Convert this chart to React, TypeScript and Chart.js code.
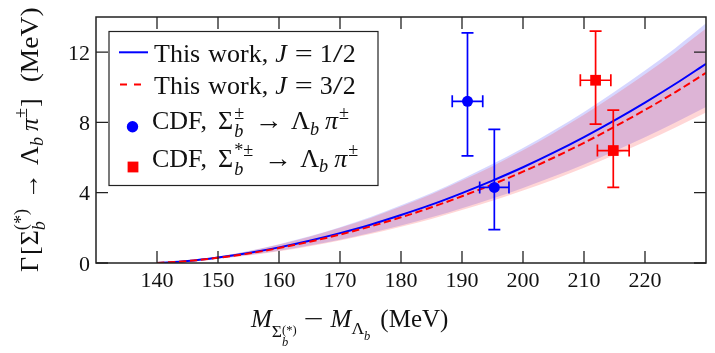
import React, { useEffect, useRef } from 'react';
import { Chart, registerables } from 'chart.js';

Chart.register(...registerables);

// ---- data ----
const massGrid = [140, 145, 150, 155, 160, 165, 170, 175, 180, 185, 190, 195, 200, 205, 210, 215, 220, 225, 230];
const blueCenter = [0, 0.11, 0.31, 0.57, 0.89, 1.27, 1.70, 2.18, 2.73, 3.32, 3.98, 4.69, 5.45, 6.28, 7.17, 8.12, 9.13, 10.20, 11.34];
const blueUpper = [0, 0.13, 0.37, 0.68, 1.07, 1.52, 2.04, 2.62, 3.28, 3.98, 4.78, 5.63, 6.54, 7.54, 8.60, 9.74, 10.96, 12.24, 13.64];
const blueLower = [0, 0.09, 0.24, 0.45, 0.70, 0.99, 1.33, 1.71, 2.14, 2.60, 3.12, 3.67, 4.27, 4.92, 5.61, 6.36, 7.15, 7.99, 8.88];
const redCenter = [0, 0.11, 0.30, 0.54, 0.85, 1.21, 1.62, 2.08, 2.60, 3.17, 3.80, 4.47, 5.20, 5.99, 6.84, 7.75, 8.71, 9.73, 10.82];
const redUpper = [0, 0.13, 0.37, 0.67, 1.05, 1.49, 2.00, 2.56, 3.21, 3.91, 4.69, 5.51, 6.41, 7.39, 8.43, 9.56, 10.74, 12.00, 13.34];
const redLower = [0, 0.09, 0.24, 0.43, 0.67, 0.96, 1.28, 1.65, 2.06, 2.51, 3.01, 3.54, 4.12, 4.74, 5.42, 6.14, 6.90, 7.71, 8.57];

const cdfSigmaX = [190.9, 195.3];
const cdfSigmaY = [9.2, 4.3];
const cdfSigmaXErr = [2.5, 2.4];
const cdfSigmaYLo = [6.1, 1.9];
const cdfSigmaYHi = [13.1, 7.6];

const cdfSigmaStarX = [211.9, 214.8];
const cdfSigmaStarY = [10.4, 6.4];
const cdfSigmaStarXErr = [2.5, 2.6];
const cdfSigmaStarYLo = [7.9, 4.3];
const cdfSigmaStarYHi = [13.2, 8.7];

const xTickValues = [140, 150, 160, 170, 180, 190, 200, 210, 220];
const yTickValues = [0, 4, 8, 12];
const xTickLabels = ['140', '150', '160', '170', '180', '190', '200', '210', '220'];
const yTickLabels = ['0', '4', '8', '12'];
const xRange = [130, 230];
const yRange = [0, 14];

// ---- styles ----
const SERIF = 'Liberation Serif';
const BLUE = '#0000ff';
const RED = '#ff0000';
const INK = '#222222';
const TEXT = '#111111';

Chart.defaults.font.family = SERIF;

type Seg = { t?: string; it?: boolean; s?: number; dy?: number; g?: number; w?: number; stack?: Seg[] };

function fontOf(seg: Seg, base: number) {
  return `${seg.it ? 'italic ' : ''}${(seg.s ?? 1) * base}px "${SERIF}", serif`;
}
function measureSeg(ctx: CanvasRenderingContext2D, seg: Seg, base: number): number {
  if (seg.stack) return Math.max(...seg.stack.map((s) => measureSeg(ctx, s, base)));
  if (seg.w) return seg.w;
  ctx.font = fontOf(seg, base);
  return ctx.measureText(seg.t || '').width;
}
function drawSeg(ctx: CanvasRenderingContext2D, seg: Seg, x: number, y: number, base: number) {
  if (seg.stack) {
    seg.stack.forEach((s) => drawSeg(ctx, s, x, y, base));
    return;
  }
  ctx.font = fontOf(seg, base);
  const m = ctx.measureText(seg.t || '').width;
  const sx = seg.w ? seg.w / m : 1;
  ctx.save();
  ctx.translate(x, y + (seg.dy ?? 0) * base);
  ctx.scale(sx, 1);
  ctx.fillText(seg.t || '', 0, 0);
  ctx.restore();
}
// g = extra gap in px before the segment
function drawRich(ctx: CanvasRenderingContext2D, segs: Seg[], x0: number, y: number, base: number) {
  ctx.textAlign = 'left';
  ctx.textBaseline = 'alphabetic';
  let cx = x0;
  segs.forEach((s) => {
    cx += s.g ?? 0;
    drawSeg(ctx, s, cx, y, base);
    cx += measureSeg(ctx, s, base);
  });
}

const yTitle: Seg[] = [
  { t: 'Γ' },
  { t: '[', g: 2 },
  { t: 'Σ', g: 1 },
  { stack: [{ t: '(*)', s: 0.7, dy: -0.42 }, { t: 'b', s: 0.7, it: true, dy: 0.3 }] },
  { t: '→', g: 10, w: 26 },
  { t: 'Λ', g: 8 },
  { t: 'b', s: 0.7, it: true, dy: 0.22 },
  { t: 'π', it: true, g: 6 },
  { t: '±', s: 0.7, dy: -0.42 },
  { t: ']', g: 1 },
  { t: '(MeV)', g: 16, w: 75 },
];

const xTitle: Seg[] = [
  { t: 'M', it: true },
  { t: 'Σ', s: 0.7, dy: 0.4 },
  { stack: [{ t: '(*)', s: 0.5, dy: 0.28 }, { t: 'b', s: 0.5, it: true, dy: 0.76 }] },
  { t: '−', g: 7, w: 20 },
  { t: 'M', it: true, g: 7 },
  { t: 'Λ', s: 0.7, dy: 0.25 },
  { t: 'b', s: 0.5, it: true, dy: 0.5 },
  { t: '(MeV)', g: 10 },
];

const legendRows: Seg[][] = [
  [{ t: 'This', g: 2 }, { t: 'work,', g: 8 }, { t: 'J', it: true, g: 7 }, { t: '=', g: 8, w: 18 }, { t: '1', g: 7 }, { t: '/', w: 10 }, { t: '2' }],
  [{ t: 'This', g: 2 }, { t: 'work,', g: 8 }, { t: 'J', it: true, g: 7 }, { t: '=', g: 8, w: 18 }, { t: '3', g: 7 }, { t: '/', w: 10 }, { t: '2' }],
  [
    { t: 'CDF,' },
    { t: 'Σ', g: 11 },
    { g: 1, stack: [{ t: '±', s: 0.7, dy: -0.4 }, { t: 'b', s: 0.7, it: true, dy: 0.3 }] },
    { t: '→', g: 11, w: 28 },
    { t: 'Λ', g: 8 },
    { t: 'b', s: 0.7, it: true, dy: 0.22 },
    { t: 'π', it: true, g: 6 },
    { t: '±', s: 0.7, dy: -0.4, g: 1 },
  ],
  [
    { t: 'CDF,' },
    { t: 'Σ', g: 11 },
    { g: 1, stack: [{ t: '*±', s: 0.7, dy: -0.4 }, { t: 'b', s: 0.7, it: true, dy: 0.3 }] },
    { t: '→', g: 11, w: 28 },
    { t: 'Λ', g: 8 },
    { t: 'b', s: 0.7, it: true, dy: 0.22 },
    { t: 'π', it: true, g: 6 },
    { t: '±', s: 0.7, dy: -0.4, g: 1 },
  ],
];

const errorBarPlugin = {
  id: 'errorBars',
  afterDatasetsDraw(chart: any) {
    const { ctx, scales } = chart;
    const sx = scales.x;
    const sy = scales.y;
    const groups = [
      { xs: cdfSigmaX, ys: cdfSigmaY, xe: cdfSigmaXErr, lo: cdfSigmaYLo, hi: cdfSigmaYHi, c: BLUE },
      { xs: cdfSigmaStarX, ys: cdfSigmaStarY, xe: cdfSigmaStarXErr, lo: cdfSigmaStarYLo, hi: cdfSigmaStarYHi, c: RED },
    ];
    ctx.save();
    ctx.lineWidth = 1.7;
    const cap = 6;
    groups.forEach((g) => {
      ctx.strokeStyle = g.c;
      g.xs.forEach((xv, i) => {
        const px = sx.getPixelForValue(xv);
        const py = sy.getPixelForValue(g.ys[i]);
        const pyLo = sy.getPixelForValue(g.lo[i]);
        const pyHi = sy.getPixelForValue(g.hi[i]);
        const pxL = sx.getPixelForValue(xv - g.xe[i]);
        const pxR = sx.getPixelForValue(xv + g.xe[i]);
        ctx.beginPath();
        ctx.moveTo(px, pyLo);
        ctx.lineTo(px, pyHi);
        ctx.moveTo(px - cap, pyLo);
        ctx.lineTo(px + cap, pyLo);
        ctx.moveTo(px - cap, pyHi);
        ctx.lineTo(px + cap, pyHi);
        ctx.moveTo(pxL, py);
        ctx.lineTo(pxR, py);
        ctx.moveTo(pxL, py - cap);
        ctx.lineTo(pxL, py + cap);
        ctx.moveTo(pxR, py - cap);
        ctx.lineTo(pxR, py + cap);
        ctx.stroke();
      });
    });
    ctx.restore();
  },
};

const framePlugin = {
  id: 'frameAndText',
  afterDraw(chart: any) {
    const { ctx, chartArea: a, scales } = chart;
    ctx.save();
    // ticks (inward, all four sides)
    ctx.strokeStyle = INK;
    ctx.lineWidth = 1.3;
    const tl = 12;
    ctx.beginPath();
    xTickValues.forEach((v) => {
      const px = scales.x.getPixelForValue(v);
      ctx.moveTo(px, a.bottom);
      ctx.lineTo(px, a.bottom - tl);
      ctx.moveTo(px, a.top);
      ctx.lineTo(px, a.top + tl);
    });
    yTickValues.forEach((v) => {
      const py = scales.y.getPixelForValue(v);
      ctx.moveTo(a.left, py);
      ctx.lineTo(a.left + tl, py);
      ctx.moveTo(a.right, py);
      ctx.lineTo(a.right - tl, py);
    });
    ctx.stroke();
    // frame
    ctx.lineWidth = 1.5;
    ctx.strokeRect(a.left, a.top, a.right - a.left, a.bottom - a.top);

    // tick labels
    ctx.fillStyle = TEXT;
    ctx.font = `22px "${SERIF}", serif`;
    ctx.textBaseline = 'alphabetic';
    ctx.textAlign = 'center';
    xTickValues.forEach((v, i) => {
      ctx.fillText(xTickLabels[i], scales.x.getPixelForValue(v), a.bottom + 24);
    });
    ctx.textAlign = 'right';
    yTickValues.forEach((v, i) => {
      ctx.fillText(yTickLabels[i], a.left - 6, scales.y.getPixelForValue(v) + 7.5);
    });

    // legend
    const lx = 109, ly = 31.5, lw = 269, lh = 154;
    ctx.fillStyle = '#ffffff';
    ctx.fillRect(lx, ly, lw, lh);
    ctx.strokeStyle = INK;
    ctx.lineWidth = 1.2;
    ctx.strokeRect(lx, ly, lw, lh);

    ctx.lineWidth = 2;
    ctx.strokeStyle = BLUE;
    ctx.beginPath();
    ctx.moveTo(119, 52.3);
    ctx.lineTo(148, 52.3);
    ctx.stroke();
    ctx.strokeStyle = RED;
    ctx.setLineDash([7, 7]);
    ctx.beginPath();
    ctx.moveTo(120, 84.5);
    ctx.lineTo(148, 84.5);
    ctx.stroke();
    ctx.setLineDash([]);
    ctx.fillStyle = BLUE;
    ctx.beginPath();
    ctx.arc(132.5, 126.7, 5.7, 0, Math.PI * 2);
    ctx.fill();
    ctx.fillStyle = RED;
    ctx.fillRect(133 - 5.4, 167 - 5.4, 10.8, 10.8);

    ctx.fillStyle = TEXT;
    const baselines = [61.7, 94.3, 129.3, 166.7];
    legendRows.forEach((row, i) => drawRich(ctx, row, 152, baselines[i], 26));

    // axis titles
    drawRich(ctx, xTitle, 251, 327.3, 25);
    ctx.save();
    ctx.translate(37.5, 272);
    ctx.rotate(-Math.PI / 2);
    drawRich(ctx, yTitle, 0, 0, 26);
    ctx.restore();

    ctx.restore();
  },
};

function pts(xs: number[], ys: number[]) {
  return xs.map((x, i) => ({ x, y: ys[i] }));
}

export default function App() {
  const ref = useRef<HTMLCanvasElement>(null);
  useEffect(() => {
    if (!ref.current) return;
    const bandBase = { pointRadius: 0, borderWidth: 0, borderColor: 'transparent', cubicInterpolationMode: 'monotone' as const };
    const chart = new Chart(ref.current, {
      type: 'line',
      data: {
        datasets: [
          { ...bandBase, data: pts(massGrid, blueUpper), fill: '+1', backgroundColor: 'rgba(0,0,255,0.16)', order: 6 },
          { ...bandBase, data: pts(massGrid, blueLower), fill: false, order: 6 },
          { ...bandBase, data: pts(massGrid, redUpper), fill: '+1', backgroundColor: 'rgba(255,0,0,0.16)', order: 5 },
          { ...bandBase, data: pts(massGrid, redLower), fill: false, order: 5 },
          { data: pts(massGrid, blueCenter), borderColor: BLUE, borderWidth: 2, pointRadius: 0, fill: false, cubicInterpolationMode: 'monotone', order: 3 },
          { data: pts(massGrid, redCenter), borderColor: RED, borderWidth: 2, borderDash: [7.4, 3.6], pointRadius: 0, fill: false, cubicInterpolationMode: 'monotone', order: 2 },
          { data: pts(cdfSigmaX, cdfSigmaY), showLine: false, pointStyle: 'circle', pointRadius: 5.5, backgroundColor: BLUE, borderColor: BLUE, borderWidth: 0, order: 1 },
          { data: pts(cdfSigmaStarX, cdfSigmaStarY), showLine: false, pointStyle: 'rect', pointRadius: 7.6, backgroundColor: RED, borderColor: RED, borderWidth: 0, order: 1 },
        ] as any,
      },
      options: {
        animation: false,
        responsive: false,
        devicePixelRatio: 1,
        layout: { padding: { top: 17, right: 9, left: 0, bottom: 0 } },
        plugins: { legend: { display: false }, tooltip: { enabled: false } },
        scales: {
          x: {
            type: 'linear',
            min: xRange[0],
            max: xRange[1],
            grid: { display: false, drawTicks: false },
            border: { display: false },
            afterBuildTicks: (s: any) => { s.ticks = xTickValues.map((v) => ({ value: v })); },
            afterFit: (s: any) => { s.height = 90; },
            ticks: { display: false },
          },
          y: {
            type: 'linear',
            min: yRange[0],
            max: yRange[1],
            grid: { display: false, drawTicks: false },
            border: { display: false },
            afterBuildTicks: (s: any) => { s.ticks = yTickValues.map((v) => ({ value: v })); },
            afterFit: (s: any) => { s.width = 96; },
            ticks: { display: false },
          },
        },
      } as any,
      plugins: [errorBarPlugin, framePlugin],
    });
    return () => chart.destroy();
  }, []);
  return (
    <div style={{ position: 'absolute', left: 0, top: 0, width: 715, height: 353, background: '#fff' }}>
      <canvas ref={ref} width={715} height={353} style={{ display: 'block' }} />
    </div>
  );
}
